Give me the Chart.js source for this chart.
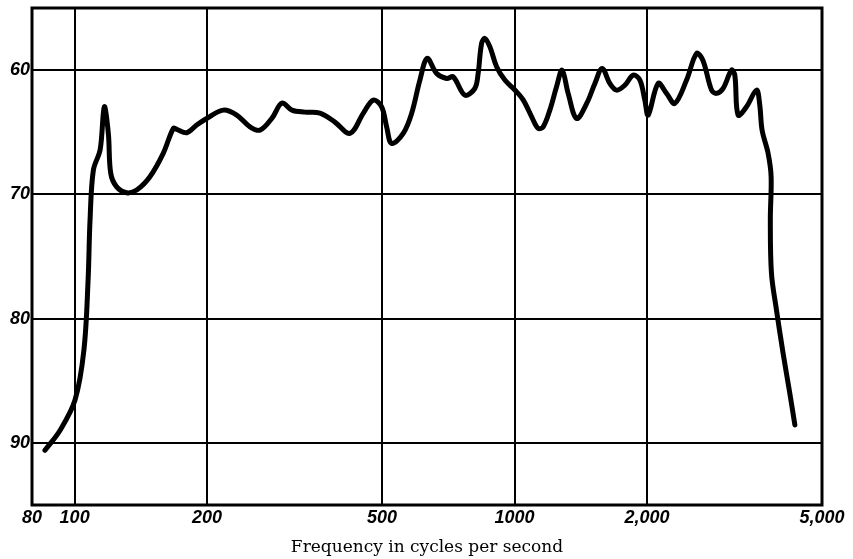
<!DOCTYPE html>
<html>
<head>
<meta charset="utf-8">
<title>Frequency response</title>
<script src="https://cdn.jsdelivr.net/npm/chart.js@4.4.1/dist/chart.umd.min.js"></script>
<style>
  html, body { margin: 0; padding: 0; background: #fff; }
  #wrap { width: 853px; height: 559px; position: relative; }
</style>
</head>
<body>
<div id="wrap"><canvas id="responseChart"></canvas></div>
<script>
// frequency (cycles per second) and level
const freq = [85.6, 92.6, 100.2, 105, 107.3, 108.4, 110.3, 114.3, 116.8, 119.3,
    120.8, 124.6, 131.3, 138.4, 148.3, 159.0, 167.6, 170.7, 179.8, 189.4,
    199.6, 217.8, 233.6, 250.4, 263.9, 281, 296, 311.9, 333.9, 361.1,
    390.6, 422.6, 453, 477.4, 498.8, 512, 525.6, 558.4, 583.6, 609.4,
    633.2, 665.3, 701, 725.6, 771.2, 812.6, 826.6, 841.6, 856.3, 879.2,
    910.5, 950.8, 1002, 1047, 1094, 1132, 1162, 1203, 1246, 1283,
    1324, 1384, 1459, 1523, 1582, 1647, 1706, 1782, 1861, 1927,
    1978, 2013, 2121, 2216, 2314, 2461, 2593, 2680, 2805, 2878,
    2980, 3114, 3168, 3223, 3368, 3549, 3610, 3654, 3771, 3831,
    3815, 3838, 3940, 4079, 4225, 4338];
const level = [90.6, 89.0, 86.55, 82.5, 76.9, 72.07, 68.05, 66.4, 62.95, 65.1,
    68.3, 69.4, 69.87, 69.65, 68.58, 66.7, 64.69, 64.77, 65.04, 64.42,
    63.89, 63.22, 63.62, 64.56, 64.83, 63.86, 62.65, 63.22, 63.38, 63.46,
    64.18, 65.09, 63.48, 62.41, 62.95, 64.56, 65.9, 65.09, 63.48, 60.8,
    59.06, 60.27, 60.67, 60.54, 62.01, 61.47, 60.27, 57.85, 57.45, 58.13,
    59.73, 60.8, 61.6, 62.41, 63.76, 64.69, 64.56, 63.22, 61.34, 60.0,
    61.87, 63.89, 62.68, 61.07, 59.86, 61.07, 61.61, 61.21, 60.4, 60.8,
    62.41, 63.62, 61.07, 61.87, 62.68, 60.8, 58.66, 59.2, 61.61, 61.87,
    61.47, 60.0, 60.4, 63.62, 62.95, 61.61, 62.82, 64.83, 66.7, 68.58,
    72.07, 76.36, 79.31, 82.79, 86.01, 88.56];

const xTicks = [80, 100, 200, 500, 1000, 2000, 5000];
const xTickLabels = ['80', '100', '200', '500', '1000', '2,000', '5,000'];
const yTicks = [60, 70, 80, 90];

const points = freq.map(function (f, i) {
    return { x: f, y: level[i] };
});

// heavy outline round the plotting area
const frame = {
    id: 'frame',
    afterDraw: function (chart) {
        const a = chart.chartArea;
        const ctx = chart.ctx;
        ctx.save();
        ctx.strokeStyle = '#000';
        ctx.lineWidth = 3;
        ctx.strokeRect(a.left, a.top, a.right - a.left, a.bottom - a.top);
        ctx.restore();
    }
};

const tickFont = { family: '"Liberation Sans", Arial, sans-serif', size: 18, weight: 'bold', style: 'italic' };

const ctx = document.getElementById('responseChart').getContext('2d');
const myChart = new Chart(ctx, {
    type: 'line',
    data: {
        datasets: [{
            data: points,
            borderColor: '#000',
            borderWidth: 5,
            borderCapStyle: 'round',
            borderJoinStyle: 'round',
            tension: 0.35,
            pointRadius: 0,
            fill: false
        }]
    },
    options: {
        responsive: true,
        maintainAspectRatio: false,
        animation: false,
        layout: { padding: { top: 8, right: 31, left: 0, bottom: 0 } },
        plugins: {
            legend: { display: false },
            tooltip: { enabled: false }
        },
        scales: {
            x: {
                type: 'logarithmic',
                min: 80,
                max: 5000,
                afterBuildTicks: function (scale) {
                    scale.ticks = xTicks.map(function (v) { return { value: v }; });
                },
                afterFit: function (scale) {
                    scale.height = 54;
                    scale.paddingLeft = 0;
                    scale.paddingRight = 0;
                },
                grid: { color: '#000', lineWidth: 2, drawTicks: false },
                border: { display: false },
                ticks: {
                    color: '#000',
                    font: tickFont,
                    padding: 2,
                    maxRotation: 0,
                    autoSkip: false,
                    callback: function (value) {
                        const i = xTicks.indexOf(value);
                        return i >= 0 ? xTickLabels[i] : '';
                    }
                },
                title: {
                    display: true,
                    text: 'Frequency in cycles per second',
                    color: '#000',
                    font: { family: '"DejaVu Serif", "Liberation Serif", serif', size: 17 },
                    padding: { top: 0, bottom: 1 }
                }
            },
            y: {
                min: 55,
                max: 95,
                reverse: true,
                afterBuildTicks: function (scale) {
                    scale.ticks = yTicks.map(function (v) { return { value: v }; });
                },
                afterFit: function (scale) {
                    scale.width = 32;
                    scale.paddingTop = 0;
                    scale.paddingBottom = 0;
                },
                grid: { color: '#000', lineWidth: 2, drawTicks: false },
                border: { display: false },
                ticks: {
                    color: '#000',
                    font: tickFont,
                    padding: 2
                }
            }
        }
    },
    plugins: [frame]
});
</script>
</body>
</html>
